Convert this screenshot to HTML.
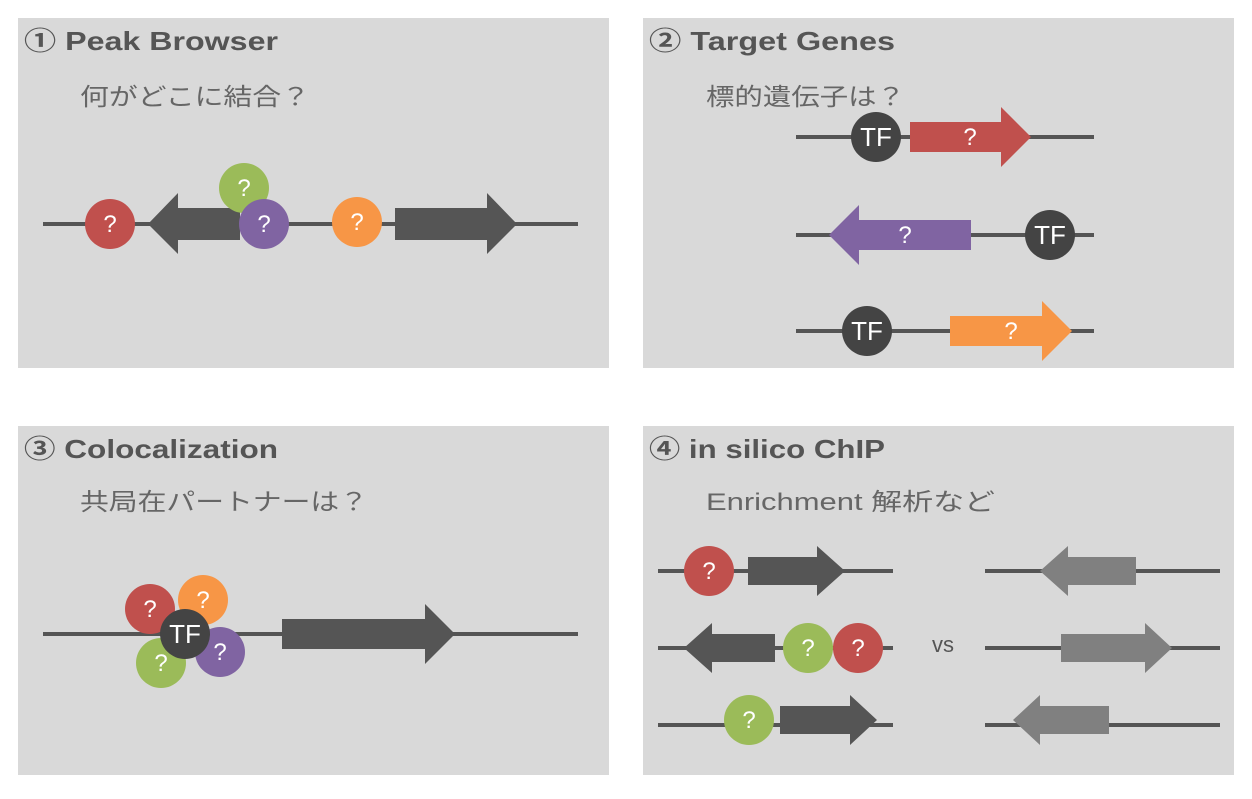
<!DOCTYPE html>
<html><head><meta charset="utf-8"><style>
body{margin:0;background:#fff;width:1252px;height:794px;overflow:hidden}
svg text{font-family:"Liberation Sans","Noto Sans CJK JP",sans-serif}
</style></head><body>
<svg width="1252" height="794" viewBox="0 0 1252 794" xmlns="http://www.w3.org/2000/svg">
<defs>
<g id="q"><text x="0" y="8" font-size="24" fill="#fff" text-anchor="middle">?</text></g>
</defs>
<rect x="18" y="18" width="591" height="350" fill="#d9d9d9"/>
<rect x="643" y="18" width="591" height="350" fill="#d9d9d9"/>
<rect x="18" y="426" width="591" height="349" fill="#d9d9d9"/>
<rect x="643" y="426" width="591" height="349" fill="#d9d9d9"/>

<g font-size="26" font-weight="bold" fill="#555">
<text x="24" y="50" textLength="254" lengthAdjust="spacingAndGlyphs">① Peak Browser</text>
<text x="649" y="50" textLength="246" lengthAdjust="spacingAndGlyphs">② Target Genes</text>
<text x="24" y="458" textLength="254" lengthAdjust="spacingAndGlyphs">③ Colocalization</text>
<text x="649" y="458" textLength="236" lengthAdjust="spacingAndGlyphs">④ in silico ChIP</text>
</g>
<g font-size="24" fill="#666">
<text x="80" y="105" textLength="230" lengthAdjust="spacingAndGlyphs">何がどこに結合？</text>
<text x="706" y="105" textLength="199" lengthAdjust="spacingAndGlyphs">標的遺伝子は？</text>
<text x="80" y="510" textLength="288" lengthAdjust="spacingAndGlyphs">共局在パートナーは？</text>
<text x="706" y="510" textLength="289" lengthAdjust="spacingAndGlyphs">Enrichment 解析など</text>
</g>

<!-- Panel 1 -->
<line x1="43" y1="224" x2="578" y2="224" stroke="#555" stroke-width="4"/>
<circle cx="110" cy="224" r="25" fill="#c0504d"/><use href="#q" x="110" y="224"/>
<polygon points="148,224 178,193 178,208 240,208 240,240 178,240 178,254" fill="#555"/>
<circle cx="244" cy="188" r="25" fill="#9bbb59"/><use href="#q" x="244" y="188"/>
<circle cx="264" cy="224" r="25" fill="#8064a2"/><use href="#q" x="264" y="224"/>
<circle cx="357" cy="222" r="25" fill="#f79646"/><use href="#q" x="357" y="222"/>
<polygon points="395,208 487,208 487,193 517,224 487,254 487,240 395,240" fill="#555"/>

<!-- Panel 2 -->
<line x1="796" y1="137" x2="1094" y2="137" stroke="#555" stroke-width="4"/>
<polygon points="910,122 1001,122 1001,107 1031,137 1001,167 1001,152 910,152" fill="#c0504d"/><use href="#q" x="970" y="137"/>
<circle cx="876" cy="137" r="25" fill="#444"/>
<text x="876" y="146" font-size="26" fill="#fff" text-anchor="middle">TF</text>
<line x1="796" y1="235" x2="1094" y2="235" stroke="#555" stroke-width="4"/>
<polygon points="829,235 859,205 859,220 971,220 971,250 859,250 859,265" fill="#8064a2"/><use href="#q" x="905" y="235"/>
<circle cx="1050" cy="235" r="25" fill="#444"/>
<text x="1050" y="244" font-size="26" fill="#fff" text-anchor="middle">TF</text>
<line x1="796" y1="331" x2="1094" y2="331" stroke="#555" stroke-width="4"/>
<polygon points="950,316 1042,316 1042,301 1072,331 1042,361 1042,346 950,346" fill="#f79646"/><use href="#q" x="1011" y="331"/>
<circle cx="867" cy="331" r="25" fill="#444"/>
<text x="867" y="340" font-size="26" fill="#fff" text-anchor="middle">TF</text>

<!-- Panel 3 -->
<line x1="43" y1="634" x2="578" y2="634" stroke="#555" stroke-width="4"/>
<polygon points="282,619 425,619 425,604 455,634 425,664 425,649 282,649" fill="#555"/>
<circle cx="150" cy="609" r="25" fill="#c0504d"/><use href="#q" x="150" y="609"/>
<circle cx="203" cy="600" r="25" fill="#f79646"/><use href="#q" x="203" y="600"/>
<circle cx="161" cy="663" r="25" fill="#9bbb59"/><use href="#q" x="161" y="663"/>
<circle cx="220" cy="652" r="25" fill="#8064a2"/><use href="#q" x="220" y="652"/>
<circle cx="185" cy="634" r="25" fill="#444"/>
<text x="185" y="643" font-size="26" fill="#fff" text-anchor="middle">TF</text>

<!-- Panel 4 -->
<g stroke="#555" stroke-width="4">
<line x1="658" y1="571" x2="893" y2="571"/>
<line x1="658" y1="648" x2="893" y2="648"/>
<line x1="658" y1="725" x2="893" y2="725"/>
<line x1="985" y1="571" x2="1220" y2="571"/>
<line x1="985" y1="648" x2="1220" y2="648"/>
<line x1="985" y1="725" x2="1220" y2="725"/>
</g>
<polygon points="748,557 817,557 817,546 845,571 817,596 817,585 748,585" fill="#555"/>
<circle cx="709" cy="571" r="25" fill="#c0504d"/><use href="#q" x="709" y="571"/>
<polygon points="684,648 712,623 712,634 775,634 775,662 712,662 712,673" fill="#555"/>
<circle cx="808" cy="648" r="25" fill="#9bbb59"/><use href="#q" x="808" y="648"/>
<circle cx="858" cy="648" r="25" fill="#c0504d"/><use href="#q" x="858" y="648"/>
<polygon points="780,706 850,706 850,695 877,720 850,745 850,734 780,734" fill="#555"/>
<circle cx="749" cy="720" r="25" fill="#9bbb59"/><use href="#q" x="749" y="720"/>
<text x="943" y="652" font-size="22" fill="#555" text-anchor="middle">vs</text>
<polygon points="1040,571 1068,546 1068,557 1136,557 1136,585 1068,585 1068,596" fill="#808080"/>
<polygon points="1061,634 1145,634 1145,623 1172,648 1145,673 1145,662 1061,662" fill="#808080"/>
<polygon points="1013,720 1040,695 1040,706 1109,706 1109,734 1040,734 1040,745" fill="#808080"/>
</svg>
</body></html>
